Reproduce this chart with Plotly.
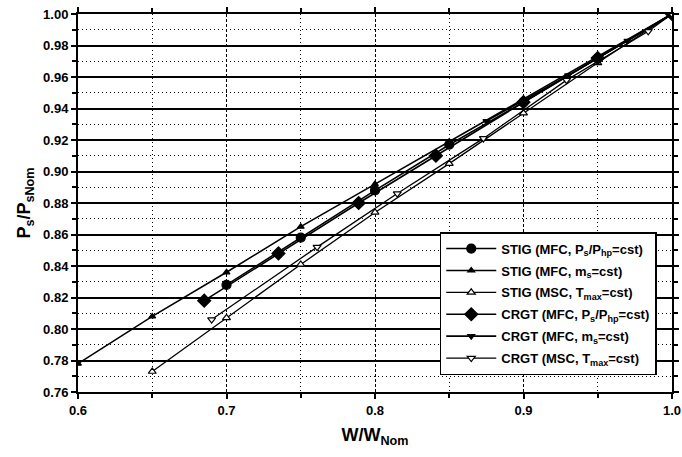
import plotly.graph_objects as go

# Data
stig_p_x = [0.70, 0.75, 0.80, 0.85, 0.90, 0.95, 1.00]
stig_p_y = [0.828, 0.858, 0.888, 0.917, 0.944, 0.972, 1.000]

stig_m_x = [0.60, 0.65, 0.70, 0.75, 0.80, 0.85, 0.90, 0.95, 1.00]
stig_m_y = [0.778, 0.808, 0.836, 0.865, 0.892, 0.919, 0.946, 0.973, 1.000]

stig_t_x = [0.65, 0.70, 0.75, 0.80, 0.85, 0.90, 0.95, 1.00]
stig_t_y = [0.773, 0.807, 0.841, 0.874, 0.905, 0.937, 0.969, 1.000]

crgt_p_x = [0.685, 0.735, 0.789, 0.841, 0.900, 0.950, 1.000]
crgt_p_y = [0.818, 0.848, 0.880, 0.910, 0.944, 0.972, 1.000]

crgt_m_x = [0.875, 0.930, 0.970, 1.000]
crgt_m_y = [0.932, 0.961, 0.983, 1.000]

crgt_t_x = [0.690, 0.761, 0.815, 0.873, 0.929, 0.984, 1.000]
crgt_t_y = [0.806, 0.852, 0.886, 0.921, 0.958, 0.989, 1.000]

names = [
    "STIG (MFC, P<sub>s</sub>/P<sub>hp</sub>=cst)",
    "STIG (MFC, m<sub>s</sub>=cst)",
    "STIG (MSC, T<sub>max</sub>=cst)",
    "CRGT (MFC, P<sub>s</sub>/P<sub>hp</sub>=cst)",
    "CRGT (MFC, m<sub>s</sub>=cst)",
    "CRGT (MSC, T<sub>max</sub>=cst)",
]

series = [
    (stig_p_x, stig_p_y, "circle", 9, 1.6, "black"),
    (stig_m_x, stig_m_y, "triangle-up", 6, 1.6, "black"),
    (stig_t_x, stig_t_y, "triangle-up", 7, 1.3, "white"),
    (crgt_p_x, crgt_p_y, "diamond", 10, 1.6, "black"),
    (crgt_m_x, crgt_m_y, "triangle-down", 6, 1.6, "black"),
    (crgt_t_x, crgt_t_y, "triangle-down", 7, 1.3, "white"),
]

fig = go.Figure()
for i, ((xs, ys, sym, sz, lw, fill), nm) in enumerate(zip(series, names)):
    fig.add_trace(go.Scatter(
        x=xs, y=ys, name=nm, mode="lines+markers", legendgroup=f"g{i}",
        line=dict(color="black", width=lw),
        marker=dict(symbol=sym, size=sz, color=fill,
                    line=dict(color="black", width=1.2)),
    ))

font_family = "Liberation Sans, Arial, sans-serif"

fig.update_layout(
    width=682, height=457,
    margin=dict(l=78, r=10, t=14, b=65),
    paper_bgcolor="white", plot_bgcolor="white",
    font=dict(family=font_family, color="black", size=13, weight="bold"),
    showlegend=True,
    legend=dict(
        x=0.609, y=0.423, xanchor="left", yanchor="top",
        bgcolor="white", bordercolor="black", borderwidth=1.5,
        font=dict(size=13, family=font_family, weight="bold"),
        tracegroupgap=2, itemwidth=50,
    ),
    xaxis=dict(
        range=[0.6, 1.0], dtick=0.1, tick0=0.6, tickformat=".1f",
        automargin=False,
        showline=True, linecolor="black", linewidth=2, mirror="ticks",
        ticks="outside", ticklen=5, tickwidth=1.5, tickcolor="black",
        showgrid=True, gridcolor="black", gridwidth=1.2, griddash="3px,2px",
        zeroline=False,
        minor=dict(dtick=0.05, showgrid=True, gridcolor="black", gridwidth=1,
                   griddash="1px,3px", ticks="outside", ticklen=4, tickcolor="black"),
        title=dict(text="W/W<sub>Nom</sub>", font=dict(size=18, family=font_family, weight="bold"),
                   standoff=12),
        tickfont=dict(size=13, family=font_family, weight="bold"),
    ),
    yaxis=dict(
        range=[0.76, 1.0], dtick=0.02, tick0=0.76, tickformat=".2f",
        automargin=False,
        showline=True, linecolor="black", linewidth=2, mirror="ticks",
        ticks="outside", ticklen=5, tickwidth=1.5, tickcolor="black",
        showgrid=True, gridcolor="black", gridwidth=1.5,
        zeroline=False,
        minor=dict(dtick=0.01, showgrid=True, gridcolor="black", gridwidth=1,
                   griddash="1px,3px", ticks="outside", ticklen=4, tickcolor="black"),
        title=dict(text="P<sub>s</sub>/P<sub>sNom</sub>", font=dict(size=18, family=font_family, weight="bold"),
                   standoff=8),
        tickfont=dict(size=13, family=font_family, weight="bold"),
    ),
)

fig.write_html("out.html")
